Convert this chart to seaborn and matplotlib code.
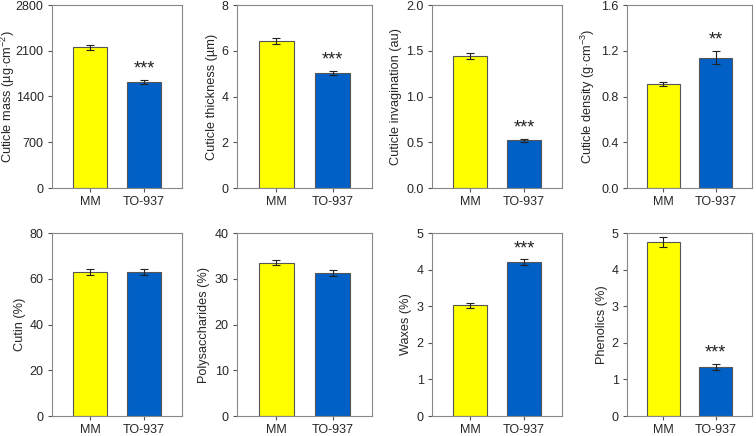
import pandas as pd
import matplotlib
matplotlib.use("Agg")
import matplotlib.pyplot as plt
import seaborn as sns

# data
groups = ["MM", "TO-937"]
bar_colors = ["#FFFF00", "#0060C6"]

ylabels = ["Cuticle mass (\u00b5g\u00b7cm$^{-2}$)", "Cuticle thickness (\u00b5m)",
           "Cuticle invagination (au)", "Cuticle density (g\u00b7cm$^{-3}$)",
           "Cutin (%)", "Polysaccharides (%)", "Waxes (%)", "Phenolics (%)"]

mm_means = [2150, 6.42, 1.44, 0.91, 63.0, 33.5, 3.02, 4.75]
to_means = [1620, 5.02, 0.52, 1.14, 63.0, 31.3, 4.20, 1.35]
mm_err = [45, 0.12, 0.03, 0.02, 1.2, 0.5, 0.08, 0.13]
to_err = [35, 0.10, 0.02, 0.06, 1.2, 0.7, 0.08, 0.08]
stars = ["***", "***", "***", "**", "", "", "***", "***"]

y_max = [2800, 8, 2.0, 1.6, 80, 40, 5, 5]
y_ticks = [[0, 700, 1400, 2100, 2800], [0, 2, 4, 6, 8],
           [0.0, 0.5, 1.0, 1.5, 2.0], [0.0, 0.4, 0.8, 1.2, 1.6],
           [0, 20, 40, 60, 80], [0, 10, 20, 30, 40],
           [0, 1, 2, 3, 4, 5], [0, 1, 2, 3, 4, 5]]
tick_fmt = ["{:.0f}", "{:.0f}", "{:.1f}", "{:.1f}", "{:.0f}", "{:.0f}", "{:.0f}", "{:.0f}"]

sns.set_style("white")
plt.rcParams["font.family"] = ["Liberation Sans", "DejaVu Sans"]
plt.rcParams["mathtext.fontset"] = "custom"
plt.rcParams["mathtext.rm"] = "Liberation Sans"

fig = plt.figure(figsize=(7.56, 4.36), dpi=100)

# axes boxes in pixels: left, right for each column; top, bottom for each row
cols = [(52, 182), (237, 372), (432, 562), (627, 752)]
rows = [(5, 188), (233, 416)]
W, H = 756, 436

for i in range(8):
    r, c = divmod(i, 4)
    x0, x1 = cols[c]
    t, b = rows[r]
    ax = fig.add_axes([x0 / W, 1 - b / H, (x1 - x0) / W, (b - t) / H])

    df = pd.DataFrame({"group": groups, "value": [mm_means[i], to_means[i]]})
    sns.barplot(data=df, x="group", y="value", hue="group", palette=bar_colors,
                saturation=1, width=0.63, edgecolor="#555555", linewidth=0.8,
                legend=False, ax=ax)
    ax.errorbar([0, 1], df["value"], yerr=[mm_err[i], to_err[i]], fmt="none",
                ecolor="#222222", elinewidth=0.8, capsize=3, capthick=0.8)

    if stars[i]:
        ax.text(1, to_means[i] + to_err[i] + y_max[i] * 0.012, stars[i],
                ha="center", va="bottom", fontsize=13, color="#222222")

    ax.set_xlim(-0.7, 1.7)
    ax.set_ylim(0, y_max[i])
    ax.set_yticks(y_ticks[i])
    ax.set_yticklabels([tick_fmt[i].format(v) for v in y_ticks[i]])
    ax.set_xlabel("")
    ax.set_ylabel(ylabels[i], fontsize=9.2, labelpad=3)
    if i == 0:
        # first label sits right at the figure's left edge (anchor = right side of rotated text)
        ax.yaxis.set_label_coords((17 - x0) / (x1 - x0), 0.5)
    ax.tick_params(axis="both", labelsize=9, direction="out", length=3,
                   width=0.8, color="#555555", pad=3)
    ax.tick_params(axis="x", pad=2.5)
    ax.tick_params(left=True, bottom=True)
    for s in ax.spines.values():
        s.set_color("#888888")
        s.set_linewidth(0.8)

fig.savefig("out.png", dpi=100)
